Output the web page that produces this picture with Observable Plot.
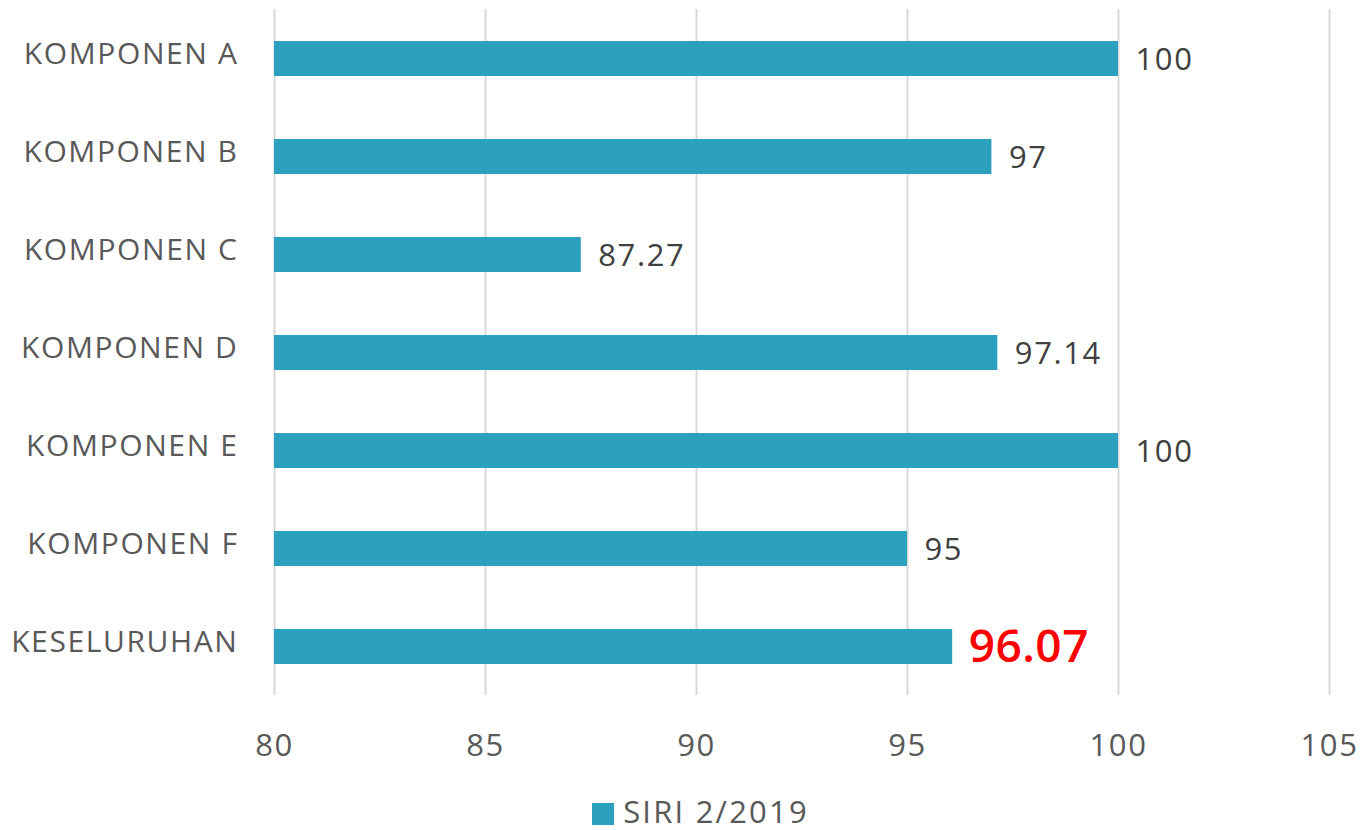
<!DOCTYPE html>
<html>
<head>
<meta charset="utf-8">
<script src="https://cdn.jsdelivr.net/npm/d3@7"></script>
<script src="https://cdn.jsdelivr.net/npm/@observablehq/plot@0.6"></script>
<style>
  html, body { margin: 0; padding: 0; background: #fff; }
  #chart { width: 1367px; }
  #chart svg text { letter-spacing: 1.6px; }
  #chart svg text.hl, #chart svg .hl text { letter-spacing: 0.5px; }
  .legend { display: flex; justify-content: center; align-items: center; font-family: "Open Sans", sans-serif; font-size: 31px; color: #595959; letter-spacing: 2.2px; margin-top: 10px; padding-left: 34px; }
  .legend .sw { width: 22px; height: 22px; background: #2CA1BE; margin-right: 9px; margin-top: 6px; }
</style>
</head>
<body>
<div id="chart"></div>
<script>
const categories = ["KOMPONEN A", "KOMPONEN B", "KOMPONEN C", "KOMPONEN D", "KOMPONEN E", "KOMPONEN F", "KESELURUHAN"];
const values = [100, 97, 87.27, 97.14, 100, 95, 96.07];
const xTicks = [80, 85, 90, 95, 100, 105];
const highlight = "KESELURUHAN";
const seriesName = "SIRI 2/2019";

const data = categories.map((c, i) => ({category: c, value: values[i]}));

const plot = Plot.plot({
  width: 1367,
  height: 780,
  marginLeft: 274,
  marginRight: 38,
  marginTop: 9,
  marginBottom: 85,
  style: { fontFamily: "Open Sans, sans-serif", background: "#fff" },
  x: { domain: [80, 105], ticks: xTicks, label: null },
  y: { domain: categories, paddingInner: 0.643, paddingOuter: 0.32, label: null },
  marks: [
    Plot.gridX(xTicks, { stroke: "#d9d9d9", strokeOpacity: 1, strokeWidth: 2 }),
    Plot.barX(data, { x1: 80, x2: "value", y: "category", fill: "#2CA1BE" }),
    Plot.text(data.filter(d => d.category !== highlight), {
      x: "value", y: "category", text: d => String(d.value), textAnchor: "start", dx: 17, dy: 1,
      fontSize: 31, fill: "#404040"
    }),
    Plot.text(data.filter(d => d.category === highlight), {
      x: "value", y: "category", text: d => String(d.value), textAnchor: "start", dx: 16, dy: 0,
      fontSize: 46, fill: "#ff0000", fontWeight: 600, className: "hl"
    }),
    Plot.axisX(xTicks, { tickSize: 0, tickPadding: 38, fontSize: 31, fill: "#595959", label: null }),
    Plot.axisY({ tickSize: 0, tickPadding: 36, fontSize: 30, fill: "#595959", dy: -5, label: null })
  ]
});
document.getElementById("chart").appendChild(plot);
// the highlighted value label keeps tight spacing
plot.querySelectorAll("text").forEach(t => { if (t.getAttribute("fill") === "#ff0000" || t.parentNode.getAttribute("fill") === "#ff0000") t.style.letterSpacing = "0.5px"; });
const leg = document.createElement("div");
leg.className = "legend";
leg.innerHTML = `<span class="sw"></span><span>${seriesName}</span>`;
document.getElementById("chart").appendChild(leg);
</script>
</body>
</html>
